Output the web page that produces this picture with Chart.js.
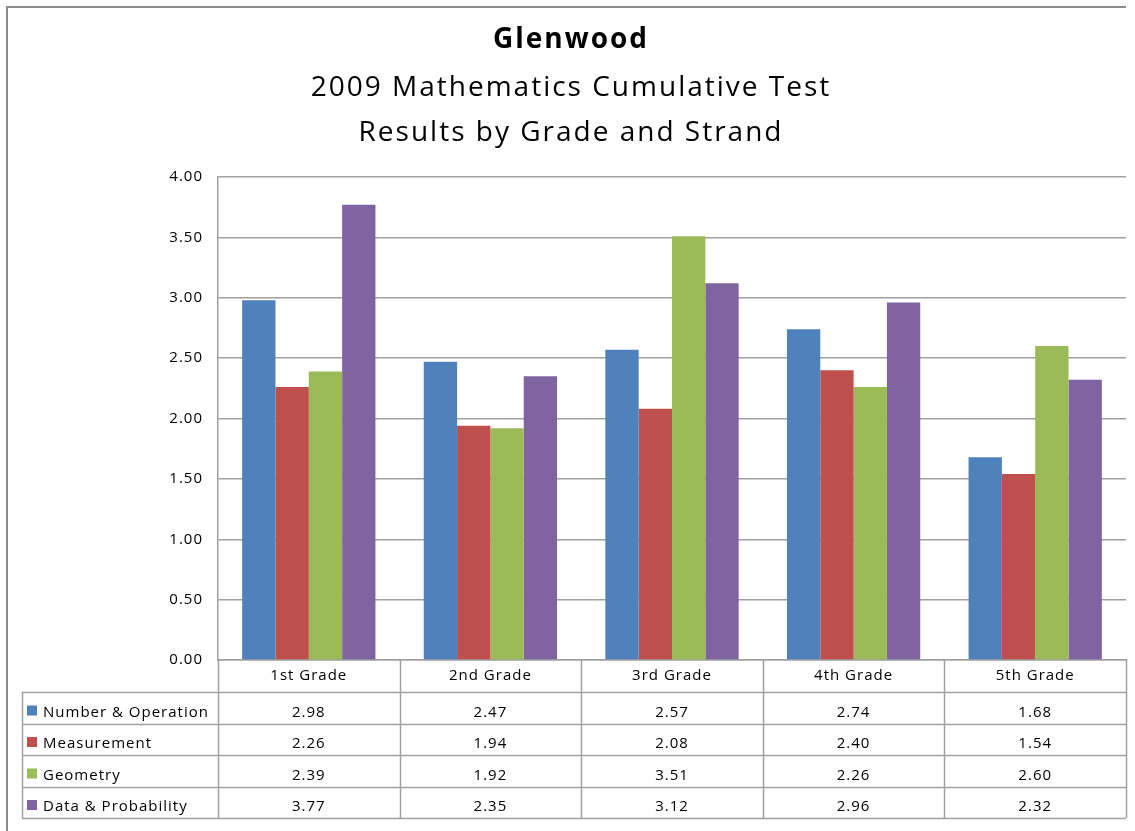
<!DOCTYPE html>
<html>
<head>
<meta charset="utf-8">
<script src="https://cdn.jsdelivr.net/npm/chart.js@4.4.0/dist/chart.umd.min.js"></script>
<style>
  html, body { margin: 0; padding: 0; background: #fff; }
  #wrap { width: 1135px; height: 831px; position: relative; }
</style>
</head>
<body>
<div id="wrap"><canvas id="chart"></canvas></div>
<script>
var grades = ['1st Grade', '2nd Grade', '3rd Grade', '4th Grade', '5th Grade'];
var strands = ['Number & Operation', 'Measurement', 'Geometry', 'Data & Probability'];
var numberOperation = [2.98, 2.47, 2.57, 2.74, 1.68];
var measurement = [2.26, 1.94, 2.08, 2.40, 1.54];
var geometry = [2.39, 1.92, 3.51, 2.26, 2.60];
var dataProbability = [3.77, 2.35, 3.12, 2.96, 2.32];
var strandColors = ['#4f81bd', '#c0504d', '#9bbb59', '#8064a2'];
var titleLines = ['Glenwood', '2009 Mathematics Cumulative Test', 'Results by Grade and Strand'];

var FONT = '"Open Sans"';
var lineColor = '#a0a0a0';
var seriesValues = [numberOperation, measurement, geometry, dataProbability];

// outer frame, white background, wider letter spacing like the excel export
var framePlugin = {
    id: 'frame',
    beforeLayout: function(chart) {
        chart.ctx.letterSpacing = '1px';
    },
    beforeDraw: function(chart) {
        var ctx = chart.ctx;
        ctx.letterSpacing = '1px';
        ctx.save();
        ctx.fillStyle = '#fff';
        ctx.fillRect(0, 0, chart.width, chart.height);
        ctx.strokeStyle = '#8c8c8c';
        ctx.lineWidth = 2;
        ctx.beginPath();
        ctx.moveTo(7, chart.height);
        ctx.lineTo(7, 7);
        ctx.lineTo(1126, 7);
        ctx.stroke();
        ctx.restore();
    }
};

// three title lines, first one bold
var titlePlugin = {
    id: 'titles',
    afterDraw: function(chart) {
        var ctx = chart.ctx;
        var cx = (chart.chartArea.left + chart.chartArea.right) / 2 - 102;
        var baselines = [48, 96, 141];
        ctx.save();
        ctx.fillStyle = '#000';
        ctx.textAlign = 'center';
        ctx.textBaseline = 'alphabetic';
        ctx.letterSpacing = '2px';
        titleLines.forEach(function(t, i) {
            ctx.font = (i === 0 ? 'bold ' : '') + '28px ' + FONT;
            ctx.fillText(t, cx + 1, baselines[i]);
        });
        ctx.restore();
    }
};

// excel style data table under the plot
var dataTablePlugin = {
    id: 'dataTable',
    afterDraw: function(chart) {
        var ctx = chart.ctx;
        var xs = chart.scales.x;
        var area = chart.chartArea;
        var headerH = 32;
        var rowH = 31.5;
        var tableLeft = 22;
        var top = area.bottom;
        var firstRow = top + headerH;
        var bottom = firstRow + rowH * strands.length;
        var step = (area.right - area.left) / grades.length;

        ctx.save();
        ctx.strokeStyle = lineColor;
        ctx.lineWidth = 1.5;
        ctx.beginPath();
        // vertical lines
        for (var i = 0; i <= grades.length; i++) {
            var vx = Math.round(area.left + step * i) + 0.5;
            ctx.moveTo(vx, top);
            ctx.lineTo(vx, bottom);
        }
        ctx.moveTo(tableLeft + 0.5, firstRow);
        ctx.lineTo(tableLeft + 0.5, bottom);
        // horizontal lines
        for (var r = 0; r <= strands.length; r++) {
            var hy = Math.round(firstRow + rowH * r) + 0.5;
            ctx.moveTo(tableLeft, hy);
            ctx.lineTo(area.right, hy);
        }
        ctx.stroke();

        ctx.font = '15px ' + FONT;
        ctx.textBaseline = 'alphabetic';
        for (var s = 0; s < strands.length; s++) {
            var base = firstRow + rowH * s + 24.5;
            ctx.fillStyle = strandColors[s];
            ctx.fillRect(27, base - 11, 10, 10);
            ctx.fillStyle = '#000';
            ctx.textAlign = 'left';
            ctx.fillText(strands[s], 43, base);
            ctx.textAlign = 'center';
            for (var g = 0; g < grades.length; g++) {
                ctx.fillText(seriesValues[s][g].toFixed(2), xs.getPixelForValue(g), base);
            }
        }
        ctx.restore();
    }
};

var datasets = strands.map(function(name, i) {
    return {
        label: name,
        data: seriesValues[i],
        backgroundColor: strandColors[i],
        borderWidth: 0,
        categoryPercentage: 0.734,
        barPercentage: 1.0
    };
});

new Chart(document.getElementById('chart'), {
    type: 'bar',
    data: { labels: grades, datasets: datasets },
    plugins: [framePlugin, titlePlugin, dataTablePlugin],
    options: {
        responsive: true,
        maintainAspectRatio: false,
        animation: false,
        layout: { padding: { left: 0, right: 9, top: 177, bottom: 0 } },
        plugins: {
            legend: { display: false },
            tooltip: { enabled: false },
            title: { display: false }
        },
        scales: {
            x: {
                grid: { display: false, drawTicks: false },
                border: { display: true, color: lineColor, width: 1.5 },
                ticks: { color: '#000', font: { family: FONT, size: 15 }, padding: 7, maxRotation: 0 },
                afterFit: function(scale) { scale.height = 831 - 660; }
            },
            y: {
                min: 0,
                max: 4,
                grid: { color: lineColor, lineWidth: 1.5, drawTicks: false },
                border: { display: true, color: lineColor, width: 1.5 },
                ticks: {
                    stepSize: 0.5,
                    color: '#000',
                    padding: 15,
                    font: { family: FONT, size: 15 },
                    callback: function(v) { return v.toFixed(2); }
                },
                afterFit: function(scale) { scale.width = 218; }
            }
        }
    }
});
</script>
</body>
</html>
